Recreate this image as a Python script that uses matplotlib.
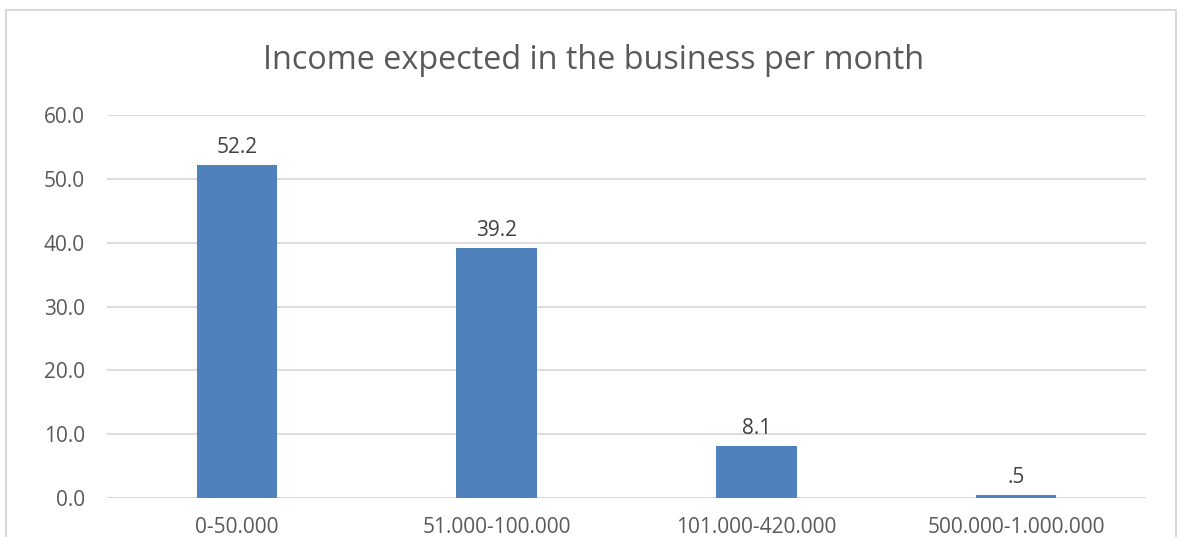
import matplotlib
matplotlib.use('Agg')
import matplotlib.pyplot as plt
from matplotlib.patches import Rectangle

# Expected monthly income, share of respondents (%)
categories = ['0-50.000', '51.000-100.000', '101.000-420.000', '500.000-1.000.000']
shares     = [52.2, 39.2, 8.1, 0.5]
bar_labels = ['52.2', '39.2', '8.1', '.5']
yticks     = [0, 10, 20, 30, 40, 50, 60]

BAR_COLOR  = '#4F81BD'
GRID_COLOR = '#D9D9D9'
TEXT_COLOR = '#595959'

plt.rcParams['font.family'] = ['Open Sans', 'DejaVu Sans']

fig = plt.figure(figsize=(11.85, 5.37), dpi=100)
ax = fig.add_axes([0.0903, 0.0726, 0.8768, 0.7132])

# chart frame (runs past the lower edge)
fig.patches.append(Rectangle((6 / 1185, -0.1), 1170 / 1185, 1.1 - 10 / 537,
                             transform=fig.transFigure, fill=False,
                             edgecolor=GRID_COLOR, lw=1.5))

x = range(len(categories))
ax.bar(x, shares, width=0.31, color=BAR_COLOR, zorder=3)
for xi, v, lab in zip(x, shares, bar_labels):
    ax.annotate(lab, (xi, v), xytext=(0, 5), textcoords='offset points',
                ha='center', va='bottom', fontsize=15, color='#404040')

ax.set_xlim(-0.5, len(categories) - 0.5)
ax.set_ylim(0, 60)
ax.set_yticks(yticks)
ax.set_yticklabels([f'{t:.1f}' for t in yticks])
ax.set_xticks(list(x))
ax.set_xticklabels(categories)
ax.yaxis.grid(True, color=GRID_COLOR, lw=1.3, zorder=0)
ax.tick_params(axis='both', length=0, labelsize=15, labelcolor=TEXT_COLOR)
ax.tick_params(axis='y', pad=16)
ax.tick_params(axis='x', pad=14)
for s in ax.spines.values():
    s.set_visible(False)
ax.axhline(0, color=GRID_COLOR, lw=1.3, zorder=1)

fig.text(0.501, 0.888, 'Income expected in the business per month',
         ha='center', va='center', fontsize=23.3, color=TEXT_COLOR)

fig.savefig('out.png', dpi=100)
